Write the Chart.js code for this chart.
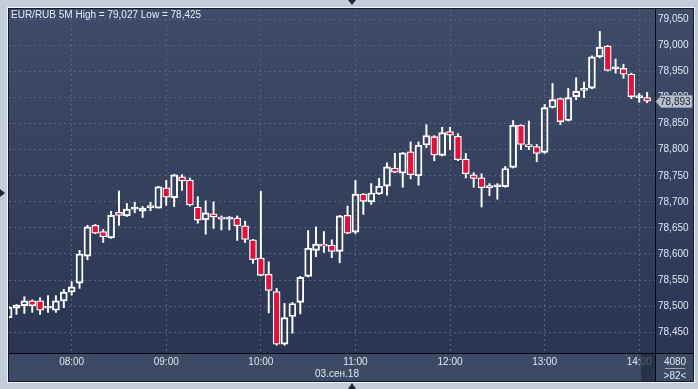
<!DOCTYPE html>
<html>
<head>
<meta charset="utf-8">
<title>EUR/RUB 5M</title>
<script src="https://cdn.jsdelivr.net/npm/chart.js@4"></script>
<style>
    html, body { margin: 0; padding: 0; background: #c3cdda; }
    canvas { display: block; }
</style>
</head>
<body>
<canvas id="candles" width="698" height="389"></canvas>
<script>
// 5-minute candles, 03.09.2018, 07:20 - 14:05
const times = [
    '07:20', '07:25', '07:30', '07:35', '07:40', '07:45', '07:50', '07:55',
    '08:00', '08:05', '08:10', '08:15', '08:20', '08:25', '08:30', '08:35', '08:40', '08:45', '08:50', '08:55',
    '09:00', '09:05', '09:10', '09:15', '09:20', '09:25', '09:30', '09:35', '09:40', '09:45', '09:50', '09:55',
    '10:00', '10:05', '10:10', '10:15', '10:20', '10:25', '10:30', '10:35', '10:40', '10:45', '10:50', '10:55',
    '11:00', '11:05', '11:10', '11:15', '11:20', '11:25', '11:30', '11:35', '11:40', '11:45', '11:50', '11:55',
    '12:00', '12:05', '12:10', '12:15', '12:20', '12:25', '12:30', '12:35', '12:40', '12:45', '12:50', '12:55',
    '13:00', '13:05', '13:10', '13:15', '13:20', '13:25', '13:30', '13:35', '13:40', '13:45', '13:50', '13:55',
    '14:00', '14:05'
];

const opens = [
    78.478, 78.496, 78.501, 78.510, 78.510, 78.496, 78.492, 78.510,
    78.527, 78.544, 78.596, 78.655, 78.643, 78.631, 78.680, 78.673, 78.686, 78.682, 78.689, 78.688,
    78.727, 78.708, 78.748, 78.742, 78.690, 78.666, 78.677, 78.671, 78.667, 78.669, 78.654, 78.627,
    78.592, 78.561, 78.528, 78.427, 78.480, 78.507, 78.557, 78.607, 78.619, 78.617, 78.605, 78.674,
    78.642, 78.715, 78.700, 78.715, 78.730, 78.765, 78.755, 78.796, 78.750, 78.809, 78.825, 78.789,
    78.835, 78.826, 78.782, 78.752, 78.746, 78.727, 78.729, 78.729, 78.766, 78.847, 78.810, 78.806,
    78.795, 78.881, 78.898, 78.856, 78.902, 78.914, 78.918, 78.978, 78.999, 78.955, 78.956, 78.945,
    78.900, 78.900
];

const highs = [
    78.499, 78.503, 78.518, 78.512, 78.516, 78.520, 78.520, 78.532,
    78.547, 78.607, 78.655, 78.657, 78.647, 78.682, 78.721, 78.697, 78.699, 78.691, 78.699, 78.730,
    78.741, 78.753, 78.752, 78.746, 78.710, 78.702, 78.700, 78.673, 78.672, 78.673, 78.663, 78.628,
    78.720, 78.585, 78.534, 78.505, 78.507, 78.557, 78.645, 78.652, 78.643, 78.627, 78.674, 78.692,
    78.741, 78.716, 78.735, 78.745, 78.775, 78.793, 78.795, 78.815, 78.815, 78.848, 78.827, 78.843,
    78.843, 78.831, 78.793, 78.756, 78.754, 78.735, 78.735, 78.768, 78.856, 78.848, 78.855, 78.810,
    78.887, 78.927, 78.899, 78.918, 78.938, 78.930, 78.980, 79.027, 79.000, 78.974, 78.964, 78.947,
    78.908, 78.910
];

const lows = [
    78.477, 78.484, 78.486, 78.488, 78.484, 78.488, 78.488, 78.497,
    78.521, 78.534, 78.589, 78.639, 78.622, 78.630, 78.655, 78.672, 78.679, 78.670, 78.683, 78.688,
    78.693, 78.691, 78.722, 78.692, 78.659, 78.638, 78.649, 78.646, 78.646, 78.626, 78.622, 78.582,
    78.558, 78.487, 78.425, 78.425, 78.448, 78.485, 78.556, 78.595, 78.603, 78.593, 78.583, 78.639,
    78.639, 78.676, 78.695, 78.714, 78.713, 78.756, 78.728, 78.744, 78.732, 78.804, 78.779, 78.788,
    78.800, 78.779, 78.746, 78.728, 78.690, 78.712, 78.705, 78.728, 78.765, 78.800, 78.800, 78.777,
    78.793, 78.880, 78.848, 78.855, 78.896, 78.900, 78.917, 78.976, 78.951, 78.947, 78.937, 78.898,
    78.891, 78.890
];

const closes = [
    78.498, 78.502, 78.510, 78.501, 78.492, 78.497, 78.510, 78.527,
    78.537, 78.600, 78.652, 78.640, 78.633, 78.674, 78.674, 78.686, 78.687, 78.688, 78.690, 78.729,
    78.709, 78.752, 78.740, 78.694, 78.665, 78.679, 78.671, 78.667, 78.671, 78.654, 78.628, 78.589,
    78.559, 78.530, 78.427, 78.478, 78.505, 78.555, 78.611, 78.619, 78.615, 78.605, 78.673, 78.640,
    78.715, 78.701, 78.717, 78.730, 78.767, 78.757, 78.794, 78.752, 78.809, 78.827, 78.790, 78.833,
    78.828, 78.781, 78.754, 78.745, 78.727, 78.731, 78.731, 78.764, 78.847, 78.810, 78.806, 78.793,
    78.881, 78.896, 78.854, 78.900, 78.912, 78.916, 78.978, 78.997, 78.952, 78.956, 78.945, 78.902,
    78.901, 78.893
];

const priceTicks = [78.45, 78.50, 78.55, 78.60, 78.65, 78.70, 78.75, 78.80, 78.85, 78.90, 78.95, 79.00, 79.05];
const lastPrice = 78.893;

const titleText = 'EUR/RUB 5M High = 79,027 Low = 78,425';
const dateText = '03.сен.18';
const barsTotal = '4080';
const barsShown = '>82<';

const FONT = "'Liberation Sans', Arial, sans-serif";
const RED = '#e0123c';
const WHITE = '#ffffff';
const TEXT = '#dfe6f1';

const fmt = v => v.toFixed(3).replace('.', ',');
const hourIdx = times.map((t, i) => t.endsWith(':00') ? i : -1).filter(i => i >= 0);

// тело свечи и тени
const bodies = times.map((t, i) => ({ x: i, y: [Math.min(opens[i], closes[i]), Math.max(opens[i], closes[i])] }));
const upperWicks = times.map((t, i) => ({ x: i, y: [Math.max(opens[i], closes[i]), highs[i]] }));
const lowerWicks = times.map((t, i) => ({ x: i, y: [lows[i], Math.min(opens[i], closes[i])] }));

const frame = {
    id: 'frame',
    beforeDraw(chart) {
        const { ctx, chartArea: a, width, height } = chart;
        const right = a.right + 38, bottom = a.bottom + 28;
        ctx.save();
        ctx.fillStyle = '#c3cdda';
        ctx.fillRect(0, 0, width, height);
        ctx.fillStyle = '#eef2f6';
        ctx.fillRect(a.left - 2, a.top - 2, right - a.left + 4, bottom - a.top + 4);
        ctx.fillStyle = '#151b29';
        ctx.fillRect(a.left - 1, a.top - 1, right - a.left + 2, bottom - a.top + 2);
        const g = ctx.createLinearGradient(0, a.top, 0, a.bottom);
        g.addColorStop(0, '#3f4c68');
        g.addColorStop(1, '#2b3553');
        ctx.fillStyle = g;
        ctx.fillRect(a.left, a.top, right - a.left, a.bottom - a.top);
        ctx.fillStyle = '#3d4a65';
        ctx.fillRect(a.left, a.bottom, right - a.left, bottom - a.bottom);
        ctx.restore();
    },
    afterDraw(chart) {
        const { ctx, chartArea: a, scales } = chart;
        const right = a.right + 38, bottom = a.bottom + 28;
        ctx.save();

        // затемнение у последней метки времени
        ctx.fillStyle = 'rgba(34, 43, 66, 0.75)';
        ctx.fillRect(a.right - 14, a.bottom + 1, 14, bottom - a.bottom - 1);

        // разделители
        ctx.strokeStyle = '#05080f';
        ctx.lineWidth = 1;
        ctx.beginPath();
        ctx.moveTo(a.right + 0.5, a.top);
        ctx.lineTo(a.right + 0.5, bottom);
        ctx.moveTo(a.left, a.bottom + 0.5);
        ctx.lineTo(right, a.bottom + 0.5);
        ctx.stroke();

        // заголовок
        ctx.font = '10px ' + FONT;
        ctx.fillStyle = '#e8edf4';
        ctx.textAlign = 'left';
        ctx.textBaseline = 'middle';
        ctx.fillText(titleText, a.left + 2, a.top + 6);

        // дата
        ctx.textAlign = 'center';
        ctx.fillStyle = TEXT;
        ctx.fillText(dateText, (a.left + a.right) / 2 + 5, a.bottom + 21);

        // счётчик баров
        const cx = a.right + 20;
        ctx.fillText(barsTotal, cx, a.bottom + 9);
        ctx.fillText(barsShown, cx, a.bottom + 23);
        ctx.strokeStyle = '#9aa5b8';
        ctx.beginPath();
        ctx.moveTo(cx - 10, a.bottom + 15.5);
        ctx.lineTo(cx + 10, a.bottom + 15.5);
        ctx.stroke();

        // метка текущей цены
        const py = Math.round(scales.y.getPixelForValue(lastPrice)) + 0.5;
        ctx.fillStyle = '#b9c1cc';
        ctx.strokeStyle = '#8d97a6';
        ctx.beginPath();
        ctx.moveTo(a.right + 1, py);
        ctx.lineTo(a.right + 6, py - 6);
        ctx.lineTo(right - 1, py - 6);
        ctx.lineTo(right - 1, py + 6);
        ctx.lineTo(a.right + 6, py + 6);
        ctx.closePath();
        ctx.fill();
        ctx.stroke();
        ctx.fillStyle = '#18202e';
        ctx.font = '10px ' + FONT;
        ctx.textAlign = 'left';
        ctx.fillText(fmt(lastPrice), a.right + 5, py + 0.5);

        // стрелки рамки
        ctx.fillStyle = '#1f283a';
        const mid = 352;
        ctx.beginPath();
        ctx.moveTo(mid - 4, 0); ctx.lineTo(mid + 4, 0); ctx.lineTo(mid, 5);
        ctx.closePath(); ctx.fill();
        ctx.beginPath();
        ctx.moveTo(mid - 4, 389); ctx.lineTo(mid + 4, 389); ctx.lineTo(mid, 383);
        ctx.closePath(); ctx.fill();
        ctx.beginPath();
        ctx.moveTo(0, 189); ctx.lineTo(0, 197); ctx.lineTo(5, 193);
        ctx.closePath(); ctx.fill();

        ctx.restore();
    }
};

new Chart(document.getElementById('candles'), {
    type: 'bar',
    data: {
        datasets: [
            {
                data: bodies,
                backgroundColor: c => closes[c.dataIndex] < opens[c.dataIndex] ? RED : 'rgba(0,0,0,0)',
                borderColor: WHITE,
                borderWidth: 1.3,
                borderSkipped: false,
                barThickness: 7,
                minBarLength: 2,
                grouped: false
            },
            {
                data: upperWicks,
                backgroundColor: WHITE,
                borderWidth: 0,
                barThickness: 1.3,
                grouped: false
            },
            {
                data: lowerWicks,
                backgroundColor: WHITE,
                borderWidth: 0,
                barThickness: 1.3,
                grouped: false
            }
        ]
    },
    options: {
        responsive: false,
        animation: false,
        devicePixelRatio: 1,
        layout: { padding: { left: 9, top: 9, right: 5, bottom: 8 } },
        plugins: {
            legend: { display: false },
            tooltip: { enabled: false }
        },
        scales: {
            x: {
                type: 'linear',
                min: 0.05,
                max: 82,
                offset: false,
                afterBuildTicks: s => { s.ticks = hourIdx.map(v => ({ value: v })); },
                afterFit: s => { s.height = 28; },
                ticks: {
                    callback: v => times[v],
                    autoSkip: false,
                    maxRotation: 0,
                    padding: 3,
                    color: TEXT,
                    font: { family: FONT, size: 10 }
                },
                grid: { color: '#56637f', drawTicks: false, offset: false },
                border: { display: false, dash: [2, 3] }
            },
            y: {
                type: 'linear',
                position: 'right',
                min: 78.41,
                max: 79.07,
                afterBuildTicks: s => { s.ticks = priceTicks.map(v => ({ value: v })); },
                afterFit: s => { s.width = 38; },
                ticks: {
                    callback: v => fmt(v),
                    padding: 3,
                    color: TEXT,
                    font: { family: FONT, size: 10 }
                },
                grid: { color: '#56637f', drawTicks: false },
                border: { display: false, dash: [2, 3] }
            }
        }
    },
    plugins: [frame]
});
</script>
</body>
</html>
